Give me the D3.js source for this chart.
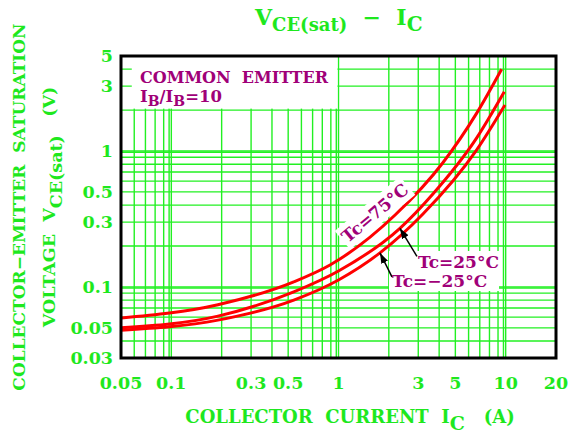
<!DOCTYPE html>
<html>
<head>
<meta charset="utf-8">
<script src="https://d3js.org/d3.v7.min.js"></script>
<style>
  body { margin: 0; background: #fff; }
  text { font-family: "DejaVu Serif", serif; font-weight: bold; white-space: pre; }
</style>
</head>
<body>
<div id="chart"><svg width="573" height="437"></svg></div>
<script>
// tick labels
var xTicks = [0.05, 0.1, 0.3, 0.5, 1, 3, 5, 10, 20]
var yTicks = [0.03, 0.05, 0.1, 0.3, 0.5, 1, 3, 5]

// curves: collector current (A) / VCE(sat) (V)
var ic75 = [0.05, 0.19, 0.54, 0.89, 2.18, 4.21, 6.71, 9.46]
var vce75 = [0.059, 0.074, 0.109, 0.145, 0.338, 0.82, 1.9, 4.0]
var ic25 = [0.05, 0.19, 0.54, 1, 2.33, 3.67, 6.71, 9.81]
var vce25 = [0.050, 0.061, 0.092, 0.131, 0.27, 0.483, 1.25, 2.73]
var icm25 = [0.05, 0.19, 0.54, 1, 1.77, 3.2, 6.71, 9.9]
var vcem25 = [0.048, 0.057, 0.080, 0.1125, 0.178, 0.344, 1.02, 2.18]

var green = "#1ee81e"
var purple = "#a00078"

var svg = d3.select("#chart svg")

var x = d3.scaleLog().domain([0.05, 20]).range([121, 556])
var y = d3.scaleLog().domain([0.03, 5]).range([358, 56])

// grid
var xGrid = [], yGrid = []
;[0.01, 0.1, 1].forEach(function(d) {
    for (var k = 1; k <= 9; k++) {
        var v = +(d * k).toPrecision(3)
        if (v > 0.05 && v <= 10) xGrid.push(v)
    }
})
xGrid.push(10); xGrid.push(0.1 * 0.97); xGrid.push(0.97); xGrid.push(9.7)
;[0.01, 0.1, 1].forEach(function(d) {
    for (var k = 1; k <= 9; k++) {
        var v = +(d * k).toPrecision(3)
        if (v > 0.03 && v < 5) yGrid.push(v)
    }
})
yGrid.push(0.098); yGrid.push(0.98)

var grid = svg.append("g").attr("stroke", "#22f022").attr("stroke-width", 1.4)
grid.selectAll(".vx").data(xGrid).enter().append("line")
    .attr("x1", function(d) { return x(d) }).attr("x2", function(d) { return x(d) })
    .attr("y1", y(5)).attr("y2", y(0.03))
grid.selectAll(".hy").data(yGrid).enter().append("line")
    .attr("x1", x(0.05)).attr("x2", x(20))
    .attr("y1", function(d) { return y(d) }).attr("y2", function(d) { return y(d) })

// blank box behind the legend text
svg.append("rect")
    .attr("x", x(0.058)).attr("y", y(5))
    .attr("width", x(0.985) - x(0.058)).attr("height", y(2.05) - y(5))
    .attr("fill", "#fff")

// curves
var line = d3.line()
    .x(function(d) { return x(d[0]) })
    .y(function(d) { return y(d[1]) })
    .curve(d3.curveMonotoneX)
var series = [d3.zip(ic75, vce75), d3.zip(ic25, vce25), d3.zip(icm25, vcem25)]
svg.selectAll(".curve").data(series).enter().append("path")
    .attr("d", line)
    .attr("fill", "none")
    .attr("stroke", "#ff0000")
    .attr("stroke-width", 3)

// frame
svg.append("rect")
    .attr("x", x(0.05)).attr("y", y(5))
    .attr("width", x(20) - x(0.05)).attr("height", y(0.03) - y(5))
    .attr("fill", "none").attr("stroke", "#000").attr("stroke-width", 3)

// tick labels
svg.selectAll(".xt").data(xTicks).enter().append("text")
    .attr("x", function(d) { return x(d) }).attr("y", 389)
    .attr("text-anchor", "middle").attr("font-size", 17.5).attr("fill", green)
    .text(function(d) { return d })
svg.selectAll(".yt").data(yTicks).enter().append("text")
    .attr("x", 113).attr("y", function(d) { return y(d) })
    .attr("dy", "0.36em")
    .attr("text-anchor", "end").attr("font-size", 17.5).attr("fill", green)
    .text(function(d) { return d })

// title
var title = svg.append("text").attr("x", 255).attr("y", 25).attr("fill", green).attr("font-size", 22)
title.append("tspan").text("V")
title.append("tspan").attr("dy", 6).attr("font-size", 18).text("CE(sat)")
title.append("tspan").attr("dy", -6).text("  −  I")
title.append("tspan").attr("dy", 6).attr("font-size", 20).text("C")

// x axis title
var xt = svg.append("text").attr("x", 350).attr("y", 423).attr("text-anchor", "middle")
    .attr("fill", green).attr("font-size", 18)
xt.append("tspan").text("COLLECTOR  CURRENT  I")
xt.append("tspan").attr("dy", 7).attr("font-size", 19).text("C")
xt.append("tspan").attr("dy", -7).text("   (A)")

// y axis title
svg.append("text").attr("transform", "translate(25,207) rotate(-90)")
    .attr("text-anchor", "middle").attr("fill", green).attr("font-size", 17)
    .text("COLLECTOR−EMITTER  SATURATION")
var yt = svg.append("text").attr("transform", "translate(55,207) rotate(-90)")
    .attr("text-anchor", "middle").attr("fill", green).attr("font-size", 17.5)
yt.append("tspan").text("VOLTAGE  V")
yt.append("tspan").attr("dy", 7).text("CE(sat)")
yt.append("tspan").attr("dy", -7).text("   (V)")

// legend
var leg = svg.append("text").attr("x", 140).attr("y", 83).attr("fill", purple).attr("font-size", 16)
leg.append("tspan").text("COMMON  EMITTER")
var leg2 = svg.append("text").attr("x", 140).attr("y", 102).attr("fill", purple).attr("font-size", 16.5)
leg2.append("tspan").text("I")
leg2.append("tspan").attr("dy", 4).attr("font-size", 14).text("B")
leg2.append("tspan").attr("dy", -4).text("/I")
leg2.append("tspan").attr("dy", 4).attr("font-size", 14).text("B")
leg2.append("tspan").attr("dy", -4).text("=10")

// curve labels
function boxed(t, pad) {
    var b = t.node().getBBox()
    svg.insert("rect", function() { return t.node() })
        .attr("x", b.x - pad).attr("y", b.y - pad)
        .attr("width", b.width + 2 * pad).attr("height", b.height + 2 * pad)
        .attr("fill", "#fff")
        .attr("transform", t.attr("transform"))
}

var l75 = svg.append("text").attr("transform", "translate(375,213) rotate(-40)")
    .attr("text-anchor", "middle").attr("dy", "0.35em")
    .attr("fill", purple).attr("font-size", 17).text("Tc=75°C")
boxed(l75, 2)
var l25 = svg.append("text").attr("x", 418).attr("y", 268)
    .attr("fill", purple).attr("font-size", 17).text("Tc=25°C")
var lm25 = svg.append("text").attr("x", 392).attr("y", 287)
    .attr("fill", purple).attr("font-size", 17).text("Tc=−25°C")
svg.insert("rect", function() { return l25.node() })
    .attr("x", 389).attr("y", 251).attr("width", 110).attr("height", 40).attr("fill", "#fff")

// arrows
svg.append("defs").append("marker")
    .attr("id", "ah").attr("viewBox", "0 0 10 10").attr("refX", 10).attr("refY", 5)
    .attr("markerWidth", 7).attr("markerHeight", 7).attr("orient", "auto")
    .append("path").attr("d", "M0,1.5L10,5L0,8.5Z").attr("fill", "#000")
svg.append("line")
    .attr("x1", x(2.33) + 17).attr("y1", y(0.27) + 28)
    .attr("x2", x(2.33)).attr("y2", y(0.27))
    .attr("stroke", "#000").attr("stroke-width", 1.5).attr("marker-end", "url(#ah)")
svg.append("line")
    .attr("x1", x(1.77) + 12).attr("y1", y(0.178) + 24)
    .attr("x2", x(1.77)).attr("y2", y(0.178))
    .attr("stroke", "#000").attr("stroke-width", 1.5).attr("marker-end", "url(#ah)")
</script>
</body>
</html>
